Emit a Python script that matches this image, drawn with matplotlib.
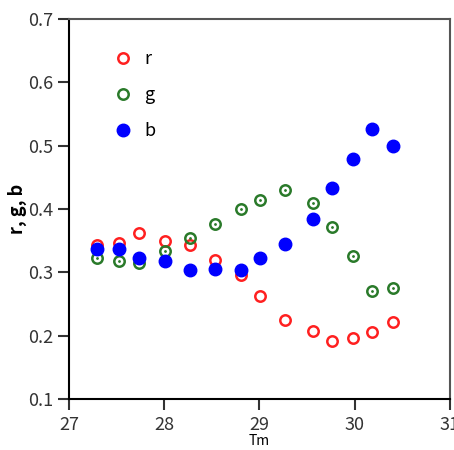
import matplotlib
matplotlib.use("Agg")
import matplotlib.pyplot as plt

# data
tm = [27.29, 27.53, 27.74, 28.01, 28.27, 28.53, 28.81, 29.01, 29.27, 29.56, 29.76, 29.98, 30.18, 30.40]
r = [0.343, 0.346, 0.362, 0.350, 0.343, 0.320, 0.296, 0.263, 0.225, 0.208, 0.191, 0.197, 0.206, 0.222]
g = [0.322, 0.317, 0.315, 0.334, 0.354, 0.376, 0.400, 0.414, 0.430, 0.409, 0.372, 0.325, 0.270, 0.275]
b = [0.336, 0.336, 0.322, 0.317, 0.303, 0.305, 0.303, 0.322, 0.345, 0.384, 0.433, 0.479, 0.526, 0.500]

xticks = [27, 28, 29, 30, 31]
yticks = [0.1, 0.2, 0.3, 0.4, 0.5, 0.6, 0.7]

plt.rcParams['font.family'] = ['Noto Sans CJK JP', 'DejaVu Sans']

fig = plt.figure(figsize=(4.54, 4.5), dpi=100)
ax = fig.add_axes([0.152, 0.1133, 0.839, 0.845])

ax.plot(tm, r, ls='none', marker='o', ms=7.5, mfc='none', mec='#ff2020', mew=1.8, label='r')
ax.plot(tm, g, ls='none', marker='o', ms=7.5, mfc='none', mec='#2a7a2a', mew=1.8, label='g')
ax.plot(tm, g, ls='none', marker='.', ms=2, color='#2a7a2a')  # center dot of g markers
ax.plot(tm, b, ls='none', marker='o', ms=9, color='#0000ff', mec='#0000ff', label='b')

ax.set_xlim(27, 31)
ax.set_ylim(0.1, 0.7)
ax.set_xticks(xticks)
ax.set_yticks(yticks)
ax.set_xticklabels([str(t) for t in xticks])
ax.set_yticklabels(['%.1f' % t for t in yticks])
ax.tick_params(axis='both', direction='out', length=8, width=1.5, labelsize=13, colors='#333333')
ax.tick_params(axis='x', pad=4)
ax.tick_params(axis='y', pad=3)
for s in ax.spines.values():
    s.set_linewidth(1.5)
ax.spines['top'].set_color('#555555')
ax.spines['right'].set_color('#555555')

ax.set_xlabel('Tm', fontsize=10, labelpad=0)
ax.set_ylabel('r, g, b', fontsize=13, fontweight='bold', labelpad=1)

ax.legend(loc='upper left', bbox_to_anchor=(0.07, 0.96), frameon=False, fontsize=13,
          handletextpad=0.6, labelspacing=1.0, handlelength=1.2)

fig.savefig('out.png', dpi=100)
